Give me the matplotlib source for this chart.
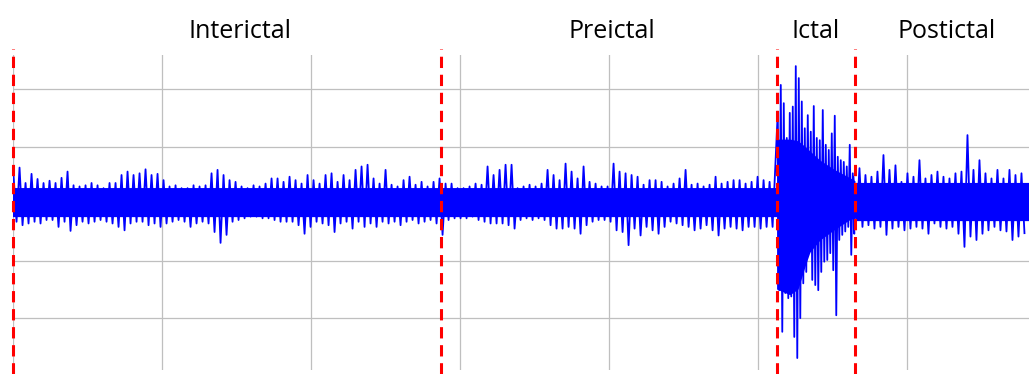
import numpy as np
import matplotlib
matplotlib.use("Agg")
import matplotlib.pyplot as plt
import matplotlib.transforms as mtrans

# ---------------- data ----------------
# min/max envelope of the EEG trace, one value per analysis window
WINDOW_S = 0.4027          # seconds per envelope window (baseline / postictal)
ICTAL_WINDOW_S = 0.2013    # finer windows during the seizure

# interictal + preictal (starts at 0.17 s)
baseline_start = 0.17
baseline_hi = [
    50, 63, 36, 52, 43, 36, 40, 36, 45, 56, 32, 30, 32, 36, 32, 27, 36, 36,
    50, 56, 50, 53, 60, 50, 52, 41, 30, 32, 27, 27, 32, 30, 32, 53, 59, 50,
    41, 38, 30, 27, 32, 30, 35, 44, 44, 38, 47, 41, 35, 50, 41, 35, 50, 53,
    38, 50, 41, 59, 65, 68, 44, 35, 59, 33, 30, 41, 47, 33, 38, 30, 38, 44,
    35,
    35, 27, 27, 30, 35, 33, 65, 50, 59, 68, 68, 27, 30, 33, 30, 35, 59, 50,
    41, 70, 56, 44, 65, 38, 35, 30, 30, 70, 56, 53, 50, 47, 33, 41, 41, 38,
    30, 35, 44, 59, 33, 35, 30, 33, 47, 35, 38, 41, 41, 35, 38, 47, 41, 38,
]
baseline_lo = [
    -32, -38, -35, -32, -35, -29, -29, -41, -32, -48, -38, -32, -35, -32,
    -29, -32, -35, -41, -47, -35, -32, -32, -38, -35, -41, -35, -32, -29,
    -32, -41, -35, -32, -35, -50, -69, -55,
    -32, -29, -26, -23, -23, -26, -26, -29, -32, -32, -32, -38, -53, -41,
    -32, -35, -38, -50, -35, -32, -44, -32, -41, -35, -41, -32, -35, -32,
    -38, -32, -29, -35, -32, -29, -35, -55, -29,
    -26, -26, -26, -23, -29, -32, -35, -35, -35, -38, -44, -29, -26, -29,
    -26, -29, -38, -44, -44, -41, -44, -53, -38, -32, -29, -29, -32, -47,
    -50, -73, -44, -56, -41, -47, -53, -41,
    -32, -35, -38, -41, -47, -44, -38, -47, -56, -44, -41, -44, -47, -41,
    -41, -44, -41, -41,
]

# ictal (starts at 51.41 s)
ictal_start = 51.41
ictal_hi = [161, 208, 176, 115, 159, 170, 241, 220, 179, 132, 155, 126, 171,
            115, 111, 164, 103, 94, 123, 154, 82, 76, 73, 65, 103, 53]
ictal_lo = [-152, -225, -157, -166, -163, -234, -271, -201, -140, -120, -87,
            -134, -143, -152, -120, -102, -99, -87, -117, -196, -64, -55, -49,
            -41, -90, -53]

# postictal (starts at 56.54 s)
post_start = 56.54
post_hi = [47, 62, 50, 47, 56, 85, 59, 67, 38, 53, 47, 76, 44, 50, 56, 47, 44,
           53, 56, 120, 59, 76, 53, 44, 59, 44, 59, 50, 53]
post_lo = [-29, -41, -38, -44, -41, -55, -44, -41, -47, -44, -41, -44, -53,
           -35, -41, -44, -41, -53, -76, -58, -64, -53, -47, -41, -47, -49,
           -64, -58, -52]

# dense core of the trace (knots in seconds)
core_t = [0.0, 51.28, 51.28, 52.18, 52.72, 53.19, 53.52, 54.19, 55.2, 56.21,
          56.54, 56.54, 68.3]
core_hi = [28, 28, 113, 113, 110, 100, 92, 76, 59, 45, 40, 37, 37]
core_lo = [-23, -23, -150, -160, -150, -110, -85, -64, -45, -28, -25, -30, -30]

# phase boundaries (s) and labels
boundaries = [0.0, 28.76, 51.28, 56.54]
phase_names = ["Interictal", "Preictal", "Ictal", "Postictal"]
phase_label_t = [15.3, 40.2, 53.93, 62.7]

# ---------------- figure ----------------
W, H = 1029, 374
fig = plt.figure(figsize=(W / 100, H / 100), dpi=100)
ax = fig.add_axes([12.5 / W, (H - 370) / H, 1 - 12.5 / W, 315 / H])

xs, ys = [], []
for start, win, hi, lo in [
    (baseline_start, WINDOW_S, baseline_hi, baseline_lo),
    (ictal_start, ICTAL_WINDOW_S, ictal_hi, ictal_lo),
    (post_start, WINDOW_S, post_hi, post_lo),
]:
    tc = start + win * np.arange(len(hi))
    for t, h, l in zip(tc, hi, lo):
        xs += [t - win / 4, t + win / 4]
        ys += [h, l]

ax.fill_between(core_t, core_lo, core_hi, color="#0000FF", lw=0, zorder=2)
ax.plot(xs, ys, color="#0000FF", lw=1.3, zorder=3)

for b in boundaries:
    ax.axvline(b, ymin=-0.013, ymax=1.02, color="#FF0000", lw=2.2,
               ls=(0, (3.7, 2.2)), clip_on=False, zorder=4)

ax.set_xlim(0, 68.22)
ax.set_ylim(-292, 260.5)
ax.set_xticks(np.arange(0, 68, 10))
ax.set_yticks([-200, -100, 0, 100, 200])
ax.grid(True, color="#BFBFBF", lw=0.9)
ax.set_axisbelow(True)
ax.tick_params(length=0, labelbottom=False, labelleft=False)
for s in ax.spines.values():
    s.set_visible(False)

trans = mtrans.blended_transform_factory(ax.transData, ax.transAxes)
for name, tx in zip(phase_names, phase_label_t):
    ax.text(tx, (370 - 38) / 315, name, transform=trans, ha="center",
            va="baseline", fontsize=18, family=["Open Sans", "DejaVu Sans"],
            color="black")

fig.savefig("out.png", dpi=100)
